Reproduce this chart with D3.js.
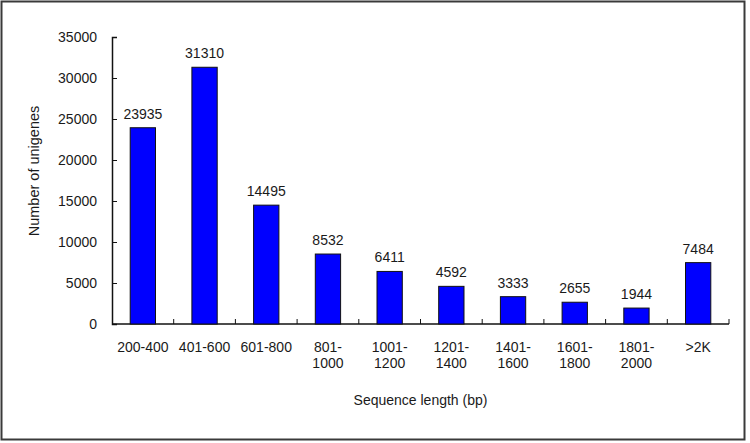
<!DOCTYPE html>
<html>
<head>
<meta charset="utf-8">
<script src="https://cdn.jsdelivr.net/npm/d3@7"></script>
<style>
body { margin: 0; background: #fff; }
text { font-family: Arial, "Liberation Sans", sans-serif; fill: #1a1a1a; }
</style>
</head>
<body>
<div id="chart"></div>
<script>
var categories = ["200-400", "401-600", "601-800", "801-1000", "1001-1200", "1201-1400", "1401-1600", "1601-1800", "1801-2000", ">2K"];
// two-line tick labels, split like the reference
var tickLines = [["200-400"], ["401-600"], ["601-800"], ["801-", "1000"], ["1001-", "1200"], ["1201-", "1400"], ["1401-", "1600"], ["1601-", "1800"], ["1801-", "2000"], [">2K"]];
var counts = [23935, 31310, 14495, 8532, 6411, 4592, 3333, 2655, 1944, 7484];
var yTicks = [0, 5000, 10000, 15000, 20000, 25000, 30000, 35000];

var W = 750, H = 443;
var margin = {top: 37, right: 21, bottom: 119, left: 112},
    width = W - margin.left - margin.right,
    height = H - margin.top - margin.bottom;

var svg = d3.select("#chart").append("svg")
    .attr("width", W)
    .attr("height", H);

// outer frame
svg.append("rect")
    .attr("x", 1.5).attr("y", 1.5)
    .attr("width", 743).attr("height", 438)
    .attr("fill", "none")
    .attr("stroke", "#3a3a3a")
    .attr("stroke-width", 2);

var g = svg.append("g")
    .attr("transform", "translate(" + margin.left + "," + margin.top + ")");

var x = d3.scaleBand().domain(categories).range([0, width]).paddingInner(0).paddingOuter(0);
var y = d3.scaleLinear().domain([0, 35000]).range([height, 0]);

// y axis, ticks pointing inward
var yAxis = g.append("g")
    .call(d3.axisLeft(y).tickValues(yTicks).tickSize(-5).tickPadding(15).tickFormat(d3.format("d")));
yAxis.select(".domain").attr("stroke", "#111").attr("stroke-width", 1.5);
yAxis.selectAll(".tick line").attr("stroke", "#111");
yAxis.selectAll(".tick text").style("font-size", "14px").attr("fill", "#1a1a1a");

// x axis line and boundary ticks
g.append("line")
    .attr("x1", 0).attr("x2", width)
    .attr("y1", height).attr("y2", height)
    .attr("stroke", "#111").attr("stroke-width", 1.5);

var bounds = categories.map(function(c) { return x(c) + x.bandwidth(); });
g.selectAll(".xtick").data(bounds).enter()
    .append("line")
    .attr("x1", function(d) { return d; })
    .attr("x2", function(d) { return d; })
    .attr("y1", height)
    .attr("y2", height - 5)
    .attr("stroke", "#111");

// bars
var bw = x.bandwidth() * 0.41;
g.selectAll(".bar").data(counts).enter()
    .append("rect")
    .attr("x", function(d, i) { return x(categories[i]) + x.bandwidth() / 2 - bw / 2; })
    .attr("y", function(d) { return y(d); })
    .attr("width", bw)
    .attr("height", function(d) { return height - y(d); })
    .attr("fill", "#0000ff")
    .attr("stroke", "#111")
    .attr("stroke-width", 1);

// value labels
g.selectAll(".val").data(counts).enter()
    .append("text")
    .attr("x", function(d, i) { return x(categories[i]) + x.bandwidth() / 2; })
    .attr("y", function(d) { return y(d) - 9; })
    .attr("text-anchor", "middle")
    .style("font-size", "14px")
    .text(function(d) { return d; });

// category labels
var lbl = g.selectAll(".cat").data(tickLines).enter()
    .append("text")
    .attr("x", function(d, i) { return x(categories[i]) + x.bandwidth() / 2; })
    .attr("y", height + 28)
    .attr("text-anchor", "middle")
    .style("font-size", "14px");
lbl.selectAll("tspan").data(function(d) { return d; }).enter()
    .append("tspan")
    .attr("x", function() { return d3.select(this.parentNode).attr("x"); })
    .attr("dy", function(d, i) { return i ? 16 : 0; })
    .text(function(d) { return d; });

// axis titles
svg.append("text")
    .attr("x", margin.left + width / 2)
    .attr("y", 405)
    .attr("text-anchor", "middle")
    .style("font-size", "14px")
    .text("Sequence length (bp)");

svg.append("text")
    .attr("transform", "translate(39,171) rotate(-90)")
    .attr("text-anchor", "middle")
    .style("font-size", "14.5px")
    .text("Number of unigenes");
</script>
</body>
</html>
